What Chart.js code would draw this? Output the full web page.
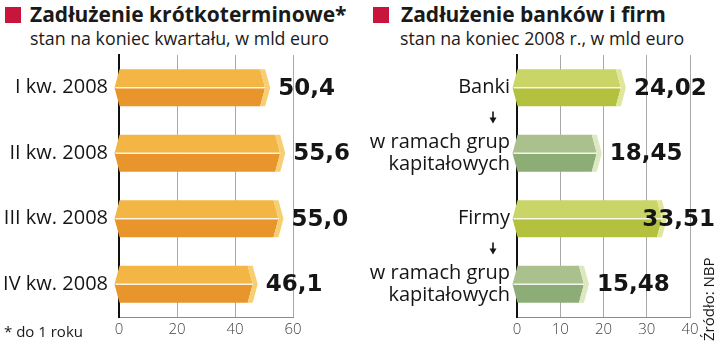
<!DOCTYPE html>
<html>
<head>
<meta charset="utf-8">
<script src="https://cdn.jsdelivr.net/npm/chart.js@4/dist/chart.umd.min.js"></script>
<style>
  body { margin: 0; width: 720px; height: 344px; background: #fff; position: relative; overflow: hidden; font-family: "Open Sans", sans-serif; color: #1a1a1a; }
  .sq { position: absolute; top: 7px; width: 16px; height: 16px; background: #c8153c; }
  .title { position: absolute; top: 2px; font-size: 21px; font-weight: 700; line-height: 24px; white-space: nowrap; }
  .sub { position: absolute; top: 27px; font-size: 17.8px; line-height: 22px; white-space: nowrap; }
  canvas { position: absolute; top: 0; }
  .note { position: absolute; left: 4px; top: 322px; font-size: 15px; line-height: 18px; }
  .src { position: absolute; left: 700px; top: 341px; font-size: 15px; line-height: 17px; white-space: nowrap; transform-origin: 0 0; transform: rotate(-90deg); }
</style>
</head>
<body>
<div class="sq" style="left:5px"></div>
<div class="title" style="left:30px">Zadłużenie krótkoterminowe*</div>
<div class="sub" style="left:30px">stan na koniec kwartału, w mld euro</div>
<div class="sq" style="left:373px"></div>
<div class="title" style="left:401px">Zadłużenie banków i firm</div>
<div class="sub" style="left:400px">stan na koniec 2008 r., w mld euro</div>

<canvas id="left" width="360" height="344" style="left:0"></canvas>
<canvas id="right" width="360" height="344" style="left:360px"></canvas>

<div class="note">* do 1 roku</div>
<div class="src">Źródło: NBP</div>

<script>
// short-term debt by quarter
const quarters = ['I kw. 2008', 'II kw. 2008', 'III kw. 2008', 'IV kw. 2008'];
const shortDebt = [50.4, 55.6, 55.0, 46.1];
const leftTicks = [0, 20, 40, 60];

// banks and companies, end of 2008
const sectors = ['Banki', ['w ramach grup', 'kapitałowych'], 'Firmy', ['w ramach grup', 'kapitałowych']];
const sectorDebt = [24.02, 18.45, 33.51, 15.48];
const rightTicks = [0, 10, 20, 30, 40];

const orange = { top: '#f3b645', bottom: '#e8952b', cap: '#f7cf72' };
const lime = { top: '#c9d566', bottom: '#b3c13e', cap: '#e0e79a' };
const sage = { top: '#abc18d', bottom: '#8dad77', cap: '#dde7c0' };

// draws each bar as a flat prism with pointed ends, plus its value
const prism = {
  id: 'prism',
  afterDatasetsDraw(chart, args, opts) {
    const ctx = chart.ctx;
    const values = chart.data.datasets[0].data;
    chart.getDatasetMeta(0).data.forEach((bar, i) => {
      const c = opts.colors[i];
      const h = bar.height;
      const top = bar.y - h / 2, bot = bar.y + h / 2, mid = bar.y;
      const base = bar.base, xv = bar.x;
      const d = 5, w = 5, xe = xv - 5;
      ctx.save();
      ctx.fillStyle = c.top;
      ctx.beginPath();
      ctx.moveTo(base, top); ctx.lineTo(xe, top); ctx.lineTo(xe + d, mid); ctx.lineTo(base - d, mid);
      ctx.closePath(); ctx.fill();
      ctx.fillStyle = c.bottom;
      ctx.beginPath();
      ctx.moveTo(base - d, mid); ctx.lineTo(xe + d, mid); ctx.lineTo(xe, bot); ctx.lineTo(base, bot);
      ctx.closePath(); ctx.fill();
      ctx.fillStyle = c.cap;
      ctx.beginPath();
      ctx.moveTo(xe, top); ctx.lineTo(xe + w, top); ctx.lineTo(xe + w + d, mid);
      ctx.lineTo(xe + w, bot); ctx.lineTo(xe, bot); ctx.lineTo(xe + d, mid);
      ctx.closePath(); ctx.fill();
      ctx.strokeStyle = 'rgba(255,255,255,0.85)';
      ctx.lineWidth = 1.5;
      ctx.beginPath();
      ctx.moveTo(base - d + 1, mid); ctx.lineTo(xe + d, mid);
      ctx.stroke();

      const txt = values[i].toFixed(opts.decimals).replace('.', ',');
      ctx.font = 'bold 23px "DejaVu Sans"';
      ctx.fillStyle = '#151515';
      ctx.textBaseline = 'middle';
      const tw = ctx.measureText(txt).width;
      const tx = Math.min(xv + 13, opts.maxRight - tw);
      ctx.fillText(txt, tx, mid + 1);
      ctx.restore();
    });
  }
};

// small down arrows between a category and its sub-row
const arrows = {
  id: 'arrows',
  afterDraw(chart, args, opts) {
    const ctx = chart.ctx;
    const y = chart.scales.y;
    const x = chart.chartArea.left - 24;
    opts.pairs.forEach(([a, b]) => {
      const cy = (y.getPixelForValue(a) + y.getPixelForValue(b)) / 2 - 3;
      ctx.save();
      ctx.strokeStyle = '#151515';
      ctx.fillStyle = '#151515';
      ctx.lineWidth = 1.6;
      ctx.beginPath();
      ctx.moveTo(x, cy - 6); ctx.lineTo(x, cy + 1);
      ctx.stroke();
      ctx.beginPath();
      ctx.moveTo(x - 3.5, cy); ctx.lineTo(x + 3.5, cy); ctx.lineTo(x, cy + 6);
      ctx.closePath(); ctx.fill();
      ctx.restore();
    });
  }
};

function makeChart(id, labels, values, ticks, max, colors, decimals, yWidth, labelPad, padRight, extra) {
  return new Chart(document.getElementById(id), {
    type: 'bar',
    data: {
      labels: labels,
      datasets: [{ data: values, backgroundColor: 'rgba(0,0,0,0)', borderWidth: 0, barThickness: 37 }]
    },
    options: {
      indexAxis: 'y',
      responsive: false,
      animation: false,
      devicePixelRatio: 1,
      layout: { padding: { top: 55, right: padRight, left: 0, bottom: 0 } },
      scales: {
        x: {
          min: 0,
          max: max,
          afterBuildTicks: s => { s.ticks = ticks.map(v => ({ value: v })); },
          afterFit: s => { s.height = 27; },
          grid: {
            drawTicks: false,
            color: c => c.tick && c.tick.value === 0 ? 'rgba(0,0,0,0)' : '#a8a8a8',
            lineWidth: 1
          },
          border: { color: '#8a8a8a', width: 1 },
          ticks: { font: { family: 'Open Sans', size: 15, weight: 300 }, color: '#444', padding: 4 }
        },
        y: {
          afterFit: s => { s.width = yWidth; },
          grid: { display: false, drawTicks: false },
          border: { color: '#111', width: 2 },
          ticks: { font: { family: 'Open Sans', size: 20, lineHeight: 1.08 }, color: '#151515', padding: labelPad }
        }
      },
      plugins: {
        legend: { display: false },
        tooltip: { enabled: false },
        prism: { colors: colors, decimals: decimals, maxRight: 355 },
        arrows: { pairs: extra }
      }
    },
    plugins: [prism, arrows]
  });
}

makeChart('left', quarters, shortDebt, leftTicks, 60,
  [orange, orange, orange, orange], 1, 119, 11, 67, []);
makeChart('right', sectors, sectorDebt, rightTicks, 40,
  [lime, sage, lime, sage], 2, 157, 7, 30, [[0, 1], [2, 3]]);
</script>
</body>
</html>
